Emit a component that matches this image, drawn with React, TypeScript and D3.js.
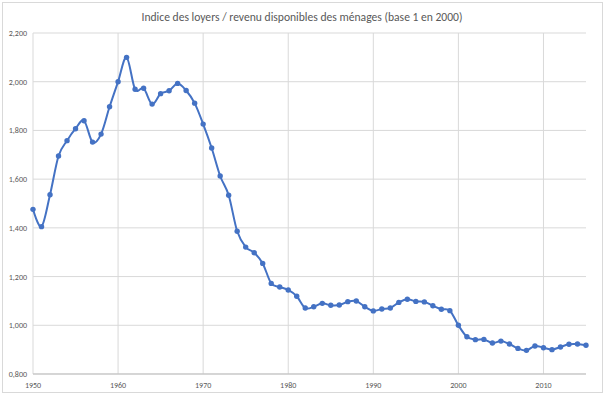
import React from "react";
import * as d3 from "d3";

const width = 605;
const height = 395;
const margin = { top: 33, right: 19, bottom: 21, left: 33 };

const title = "Indice des loyers / revenu disponibles des ménages (base 1 en 2000)";

const years = d3.range(1950, 2016);
const values = [
  1.476, 1.405, 1.536, 1.695, 1.758, 1.807, 1.84, 1.752, 1.785, 1.897,
  2.0, 2.1, 1.969, 1.973, 1.908, 1.951, 1.963, 1.993, 1.964, 1.912,
  1.826, 1.728, 1.613, 1.534, 1.386, 1.321, 1.298, 1.254, 1.172, 1.157,
  1.145, 1.119, 1.071, 1.076, 1.09, 1.082, 1.083, 1.097, 1.1, 1.076,
  1.059, 1.067, 1.071, 1.094, 1.107, 1.098, 1.096, 1.08, 1.066, 1.06,
  1.0, 0.953, 0.941, 0.942, 0.927, 0.935, 0.923, 0.905, 0.897, 0.915,
  0.908, 0.9, 0.911, 0.922, 0.923, 0.918,
];

const xTicks = [1950, 1960, 1970, 1980, 1990, 2000, 2010];
const yTicks = [0.8, 1.0, 1.2, 1.4, 1.6, 1.8, 2.0, 2.2];

const font = "Carlito, 'Liberation Sans Narrow', 'Open Sans', sans-serif";

export default function App() {
  const x = d3.scaleLinear().domain([1950, 2015]).range([margin.left, width - margin.right]);
  const y = d3.scaleLinear().domain([0.8, 2.2]).range([height - margin.bottom, margin.top]);
  const fmt = (v: number) => d3.format(".3f")(v).replace(".", ",");

  const points = years.map((yr, i) => ({ yr, v: values[i] }));
  const line = d3
    .line<{ yr: number; v: number }>()
    .x((d) => x(d.yr))
    .y((d) => y(d.v))
    .curve(d3.curveCardinal.tension(0));

  return (
    <div style={{ position: "absolute", left: 0, top: 0 }}>
      <svg width={width} height={height} style={{ display: "block", background: "#fff" }}>
        <rect x={2.5} y={2.5} width={600} height={390} fill="#fff" stroke="#d9d9d9" />
        <text x={302} y={21} textAnchor="middle" fontFamily={font} fontSize={11.6} fill="#595959">
          {title}
        </text>
        {yTicks.map((t) => (
          <g key={"y" + t}>
            <line x1={margin.left} x2={width - margin.right} y1={y(t)} y2={y(t)} stroke="#d9d9d9" />
            <text x={27} y={y(t) + 3} textAnchor="end" fontFamily={font} fontSize={8} fill="#595959">
              {fmt(t)}
            </text>
          </g>
        ))}
        {xTicks.map((t) => (
          <g key={"x" + t}>
            <line x1={x(t)} x2={x(t)} y1={margin.top} y2={height - margin.bottom} stroke="#d9d9d9" />
            <text x={x(t)} y={height - margin.bottom + 14} textAnchor="middle" fontFamily={font} fontSize={8} fill="#595959">
              {t}
            </text>
          </g>
        ))}
        <line
          x1={margin.left}
          x2={width - margin.right}
          y1={height - margin.bottom}
          y2={height - margin.bottom}
          stroke="#bfbfbf"
        />
        <path d={line(points) ?? ""} fill="none" stroke="#4472c4" strokeWidth={2} strokeLinejoin="round" />
        {points.map((d) => (
          <circle key={d.yr} cx={x(d.yr)} cy={y(d.v)} r={2.7} fill="#4472c4" />
        ))}
      </svg>
    </div>
  );
}
